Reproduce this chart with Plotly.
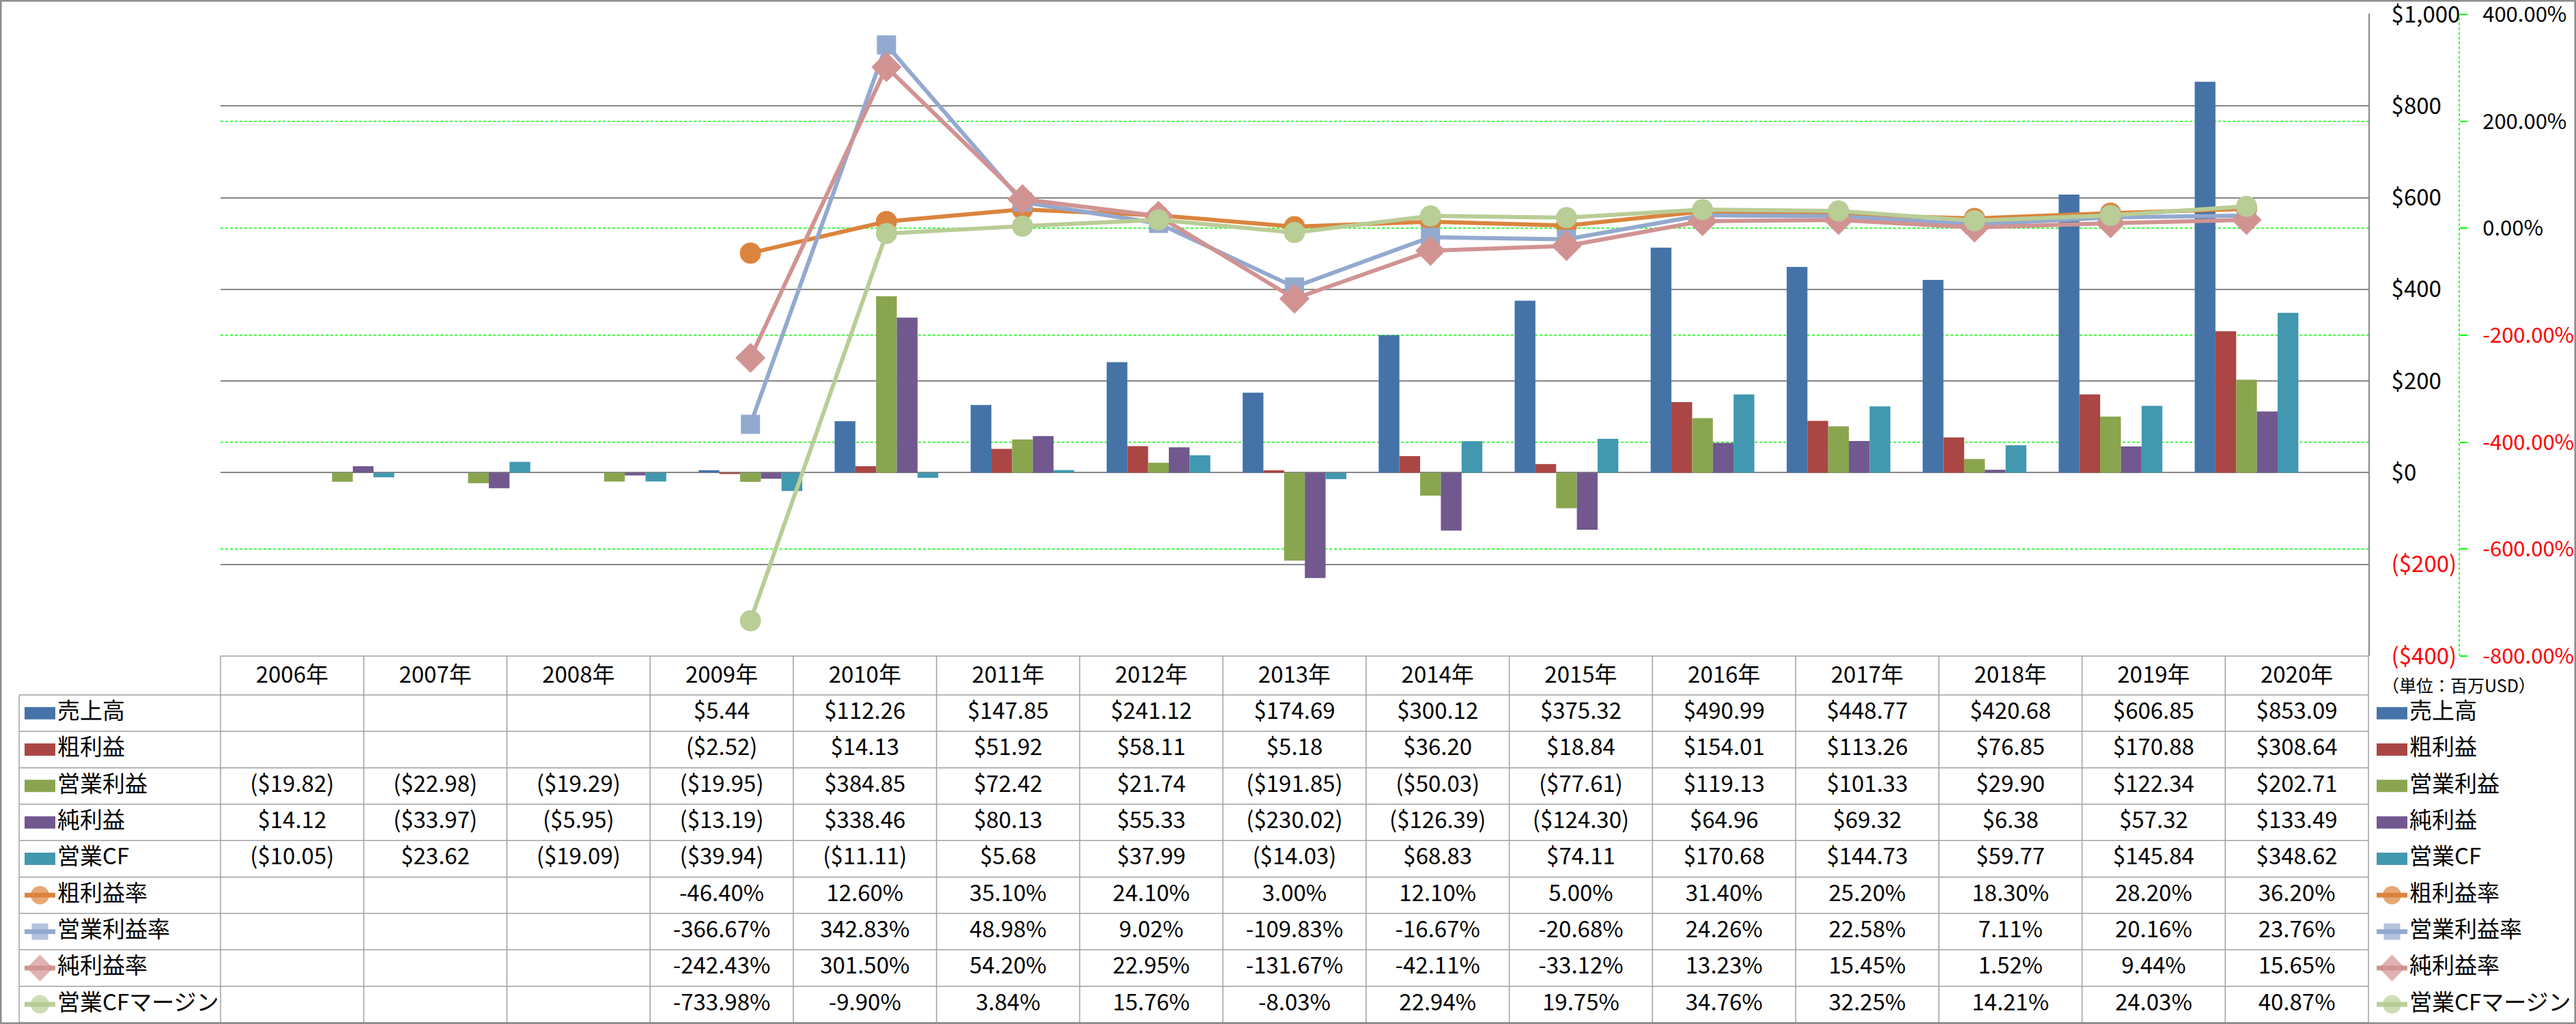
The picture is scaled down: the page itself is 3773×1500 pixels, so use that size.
import plotly.graph_objects as go

# ---------------- data ----------------
years = ['2006年', '2007年', '2008年', '2009年', '2010年', '2011年', '2012年', '2013年',
         '2014年', '2015年', '2016年', '2017年', '2018年', '2019年', '2020年']

sales = [None, None, None, 5.44, 112.26, 147.85, 241.12, 174.69, 300.12, 375.32, 490.99, 448.77, 420.68, 606.85, 853.09]
gross_profit = [None, None, None, -2.52, 14.13, 51.92, 58.11, 5.18, 36.20, 18.84, 154.01, 113.26, 76.85, 170.88, 308.64]
operating_profit = [-19.82, -22.98, -19.29, -19.95, 384.85, 72.42, 21.74, -191.85, -50.03, -77.61, 119.13, 101.33, 29.90, 122.34, 202.71]
net_profit = [14.12, -33.97, -5.95, -13.19, 338.46, 80.13, 55.33, -230.02, -126.39, -124.30, 64.96, 69.32, 6.38, 57.32, 133.49]
operating_cf = [-10.05, 23.62, -19.09, -39.94, -11.11, 5.68, 37.99, -14.03, 68.83, 74.11, 170.68, 144.73, 59.77, 145.84, 348.62]

gross_margin = [None, None, None, -46.40, 12.60, 35.10, 24.10, 3.00, 12.10, 5.00, 31.40, 25.20, 18.30, 28.20, 36.20]
operating_margin = [None, None, None, -366.67, 342.83, 48.98, 9.02, -109.83, -16.67, -20.68, 24.26, 22.58, 7.11, 20.16, 23.76]
net_margin = [None, None, None, -242.43, 301.50, 54.20, 22.95, -131.67, -42.11, -33.12, 13.23, 15.45, 1.52, 9.44, 15.65]
cf_margin = [None, None, None, -733.98, -9.90, 3.84, 15.76, -8.03, 22.94, 19.75, 34.76, 32.25, 14.21, 24.03, 40.87]

bar_names = ['売上高', '粗利益', '営業利益', '純利益', '営業CF']
bar_values = [sales, gross_profit, operating_profit, net_profit, operating_cf]
bar_colors = ['#4573A7', '#AA4644', '#89A54E', '#71588F', '#4198AF']

line_names = ['粗利益率', '営業利益率', '純利益率', '営業CFマージン']
line_values = [gross_margin, operating_margin, net_margin, cf_margin]
line_colors = ['#DB843D', '#93A9CF', '#D19392', '#B9CD96']
line_symbols = ['circle', 'square', 'diamond', 'circle']
line_msizes = [31, 28, 34, 31]

y1_ticks = [-400, -200, 0, 200, 400, 600, 800, 1000]
y2_ticks = [-800, -600, -400, -200, 0, 200, 400]

unit_label = '（単位：百万USD）'

# ---------------- layout constants (pixel coordinates) ----------------
W, H = 3773, 1500
PX0, PX1 = 323, 3469          # plot area left / right
PY_TOP, PY_BOT = 21, 961      # plot area top / bottom
ROW_TOP, ROW_H = 1018, 53.33  # first data row top, row height
LEG_LEFT = 28
Y2_POS_PX = 3602
FONT = 'Noto Sans CJK JP'
FS = 33
GRID_GRAY = '#868686'
TABLE_GRAY = '#A0A0A0'
GREEN = '#00FF00'

n = len(years)
cw = (PX1 - PX0) / n


def fx(px):   # pixel -> paper x
    return px / W


def fy(py):   # pixel -> paper y
    return 1 - py / H


def xv(px):   # pixel -> table x units (category index)
    return (px - PX0) / cw - 0.5


def yv(py):   # pixel -> table row units
    return 0.5 + (py - ROW_TOP) / ROW_H


def money(v):
    if v is None:
        return ''
    return f'${v:,.2f}' if v >= 0 else f'(${-v:,.2f})'


def pct(v):
    return '' if v is None else f'{v:.2f}%'


fig = go.Figure()

# bars
for name, vals, col in zip(bar_names, bar_values, bar_colors):
    fig.add_trace(go.Bar(x=years, y=vals, name=name, marker=dict(color=col, line=dict(width=0)),
                         xaxis='x', yaxis='y'))

# lines on secondary axis
for name, vals, col, sym, ms in zip(line_names, line_values, line_colors, line_symbols, line_msizes):
    fig.add_trace(go.Scatter(x=years, y=vals, name=name, mode='lines+markers',
                             line=dict(color=col, width=6),
                             marker=dict(symbol=sym, size=ms, color=col, line=dict(width=0)),
                             xaxis='x', yaxis='y2'))

# ---------------- data table ----------------
idx = list(range(n))
tfont = dict(family=FONT, size=FS, color='black')
fig.add_trace(go.Scatter(x=idx, y=[0] * n, mode='text', text=years, textfont=tfont,
                         xaxis='x3', yaxis='y3', cliponaxis=False, hoverinfo='skip'))
all_names = bar_names + line_names
rows_text = [[money(v) for v in vals] for vals in bar_values] + \
            [[pct(v) for v in vals] for vals in line_values]
for r, texts in enumerate(rows_text, start=1):
    fig.add_trace(go.Scatter(x=idx, y=[r] * n, mode='text', text=texts, textfont=tfont,
                             xaxis='x3', yaxis='y3', cliponaxis=False, hoverinfo='skip'))

# legend labels (left inside table, and right)
rows = list(range(1, len(all_names) + 1))
for text_px, key_px0, key_px1 in [(84, 36, 81), (3529, 3481, 3526)]:
    fig.add_trace(go.Scatter(x=[xv(text_px)] * len(all_names), y=rows, mode='text',
                             text=all_names, textposition='middle right', textfont=tfont,
                             xaxis='x3', yaxis='y3', cliponaxis=False, hoverinfo='skip'))
    k0, k1 = xv(key_px0), xv(key_px1)
    for i, col in enumerate(bar_colors):
        fig.add_shape(type='rect', xref='x3', yref='y3', x0=k0, x1=k1,
                      y0=rows[i] - 9 / ROW_H, y1=rows[i] + 9 / ROW_H,
                      fillcolor=col, line=dict(width=0))
    for j, (col, sym, ms) in enumerate(zip(line_colors, line_symbols, line_msizes)):
        r = rows[len(bar_colors) + j]
        fig.add_trace(go.Scatter(x=[k0, (k0 + k1) / 2, k1], y=[r] * 3, mode='lines+markers',
                                 line=dict(color=col, width=7),
                                 marker=dict(symbol=sym, size=[0, ms - 4, 0], color=col, line=dict(width=0)),
                                 xaxis='x3', yaxis='y3', cliponaxis=False, hoverinfo='skip'))

fig.add_annotation(xref='x3', yref='y3', x=xv(3601), y=yv(1003), text=unit_label, showarrow=False,
                   font=dict(family=FONT, size=25, color='black'))

# table grid lines
tl = dict(color=TABLE_GRAY, width=1.5)
y_top = yv(PY_BOT)
y_bot = len(all_names) + 0.5
fig.add_shape(type='line', xref='x3', yref='y3', x0=-0.5, x1=n - 0.5, y0=y_top, y1=y_top, line=tl)
for k in range(len(all_names) + 1):
    fig.add_shape(type='line', xref='x3', yref='y3', x0=xv(LEG_LEFT), x1=n - 0.5,
                  y0=k + 0.5, y1=k + 0.5, line=tl)
for c in range(n + 1):
    fig.add_shape(type='line', xref='x3', yref='y3', x0=c - 0.5, x1=c - 0.5,
                  y0=y_top, y1=y_bot, line=tl)
fig.add_shape(type='line', xref='x3', yref='y3', x0=xv(LEG_LEFT), x1=xv(LEG_LEFT),
              y0=0.5, y1=y_bot, line=tl)

# secondary-axis gridlines (green dashed, interior ticks only) and dashed axis line
for v in y2_ticks[1:-1]:
    fig.add_shape(type='line', xref='x domain', yref='y2', x0=0, x1=1, y0=v, y1=v, layer='below',
                  line=dict(color=GREEN, width=1.5, dash='4px,3px'))
ydom = [fy(PY_BOT), fy(PY_TOP)]
fig.add_shape(type='line', xref='paper', yref='paper', x0=fx(Y2_POS_PX), x1=fx(Y2_POS_PX),
              y0=ydom[0], y1=ydom[1], line=dict(color=GREEN, width=1.5, dash='4px,3px'))

# outer border
fig.add_shape(type='rect', xref='paper', yref='paper', x0=0, x1=1, y0=0, y1=1,
              line=dict(color='#8C8C8C', width=5))

# ---------------- axes ----------------
y1_text = [f'${v:,}' if v >= 0 else f"<span style='color:red'>(${-v:,})</span>" for v in y1_ticks]
y2_text = [f'{v:.2f}%' if v >= 0 else f"<span style='color:red'>{v:.2f}%</span>" for v in y2_ticks]
ext = 0.6 / (PY_BOT - PY_TOP)   # tiny headroom so the top tick is not clipped
y1_range = [y1_ticks[0], y1_ticks[-1] + (y1_ticks[-1] - y1_ticks[0]) * ext]
y2_range = [y2_ticks[0], y2_ticks[-1] + (y2_ticks[-1] - y2_ticks[0]) * ext]
ydom[1] = fy(PY_TOP - 0.6)

fig.update_layout(
    template='none',
    width=W, height=H,
    margin=dict(l=0, r=0, t=0, b=0, pad=0, autoexpand=False),
    paper_bgcolor='white', plot_bgcolor='rgba(0,0,0,0)',
    showlegend=False,
    barmode='group', bargap=0.238, bargroupgap=0,
    font=dict(family=FONT, size=FS, color='black'),
    xaxis=dict(domain=[fx(PX0), fx(PX1)], type='category', categoryorder='array', categoryarray=years,
               showticklabels=False, showgrid=False, zeroline=False, showline=False, ticks='',
               automargin=False, anchor='y', fixedrange=True),
    yaxis=dict(domain=ydom, range=y1_range, side='right', tickvals=y1_ticks, ticktext=y1_text,
               showgrid=True, gridcolor=GRID_GRAY, gridwidth=2, zeroline=False,
               showline=True, linecolor=GRID_GRAY, linewidth=2, ticks='', ticklabelstandoff=25,
               ticklabeloverflow='allow', automargin=False,
               tickfont=dict(family=FONT, size=FS, color='black'), anchor='x', fixedrange=True),
    yaxis2=dict(range=y2_range, overlaying='y', side='right', anchor='free', position=fx(Y2_POS_PX),
                tickvals=y2_ticks, ticktext=y2_text, showgrid=False, zeroline=False, showline=False,
                ticks='outside', ticklen=11, tickcolor=GREEN, tickwidth=1.5, ticklabelstandoff=16,
                ticklabeloverflow='allow', automargin=False,
                tickfont=dict(family=FONT, size=31, color='black'), fixedrange=True),
    xaxis3=dict(domain=[0, 1], range=[xv(0), xv(W)], visible=False, anchor='y3', fixedrange=True,
                automargin=False),
    yaxis3=dict(domain=[0, 1], range=[yv(H), yv(0)], visible=False, anchor='x3', fixedrange=True,
                automargin=False),
)

fig.write_html(
    'out.html',
    config={'displayModeBar': False},
    post_script=(
        "var d=document.getElementById('{plot_id}');"
        "d.style.position='fixed';d.style.left='0px';d.style.top='0px';"
        "document.body.style.margin='0px';"
        "document.documentElement.style.overflow='hidden';document.body.style.overflow='hidden';"
    ),
)
